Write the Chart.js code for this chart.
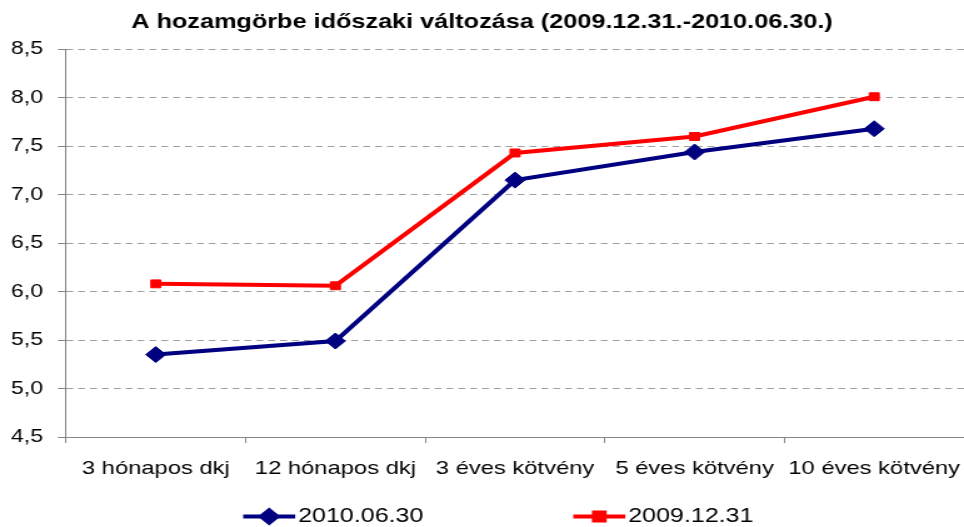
<!DOCTYPE html>
<html>
<head>
<meta charset="utf-8">
<script src="https://cdn.jsdelivr.net/npm/chart.js@4"></script>
<style>
  html, body { margin: 0; padding: 0; background: #fff; overflow: hidden; }
</style>
</head>
<body>
<!-- the reference text is drawn wide, so the chart is drawn narrower and stretched -->
<canvas id="yieldChart" width="771" height="527" style="width:964px;height:527px;display:block"></canvas>
<script>
// Data
const categories = ['3 hónapos dkj', '12 hónapos dkj', '3 éves kötvény', '5 éves kötvény', '10 éves kötvény'];
const labels2010 = '2010.06.30';
const labels2009 = '2009.12.31';
const values2010 = [5.35, 5.49, 7.15, 7.44, 7.68];
const values2009 = [6.08, 6.06, 7.43, 7.60, 8.01];
const yMin = 4.5;
const yMax = 8.5;
const yStep = 0.5;

const FONT = "'Liberation Sans', Arial, sans-serif";
const BLUE = '#000080';
const RED = '#ff0000';

// Legend: line with the marker on it, drawn below the axis labels
const lineLegend = {
    id: 'lineLegend',
    afterDraw(chart) {
        const { ctx } = chart;
        const cx = chart.width / 2;
        const y = 516.5;
        const items = [
            { text: labels2010, color: BLUE, style: 'rectRot', radius: 6.2, start: cx - 191 },
            { text: labels2009, color: RED, style: 'rect', radius: 5.5, start: cx + 73 }
        ];
        ctx.save();
        items.forEach(it => {
            ctx.strokeStyle = it.color;
            ctx.lineWidth = 4;
            ctx.beginPath();
            ctx.moveTo(it.start, y);
            ctx.lineTo(it.start + 41.6, y);
            ctx.stroke();
            ctx.fillStyle = it.color;
            Chart.helpers.drawPoint(ctx, { pointStyle: it.style, radius: it.radius, borderWidth: 1, rotation: 0 }, it.start + 20.8, y);
            ctx.fill();
            ctx.fillStyle = '#000';
            ctx.font = '20px ' + FONT;
            ctx.textAlign = 'left';
            ctx.textBaseline = 'alphabetic';
            ctx.fillText(it.text, it.start + 44, 522);
        });
        ctx.restore();
    }
};

new Chart(document.getElementById('yieldChart'), {
    type: 'line',
    data: {
        labels: categories,
        datasets: [{
            label: labels2010,
            data: values2010,
            borderColor: BLUE,
            backgroundColor: BLUE,
            borderWidth: 4,
            pointStyle: 'rectRot',
            pointRadius: 8,
            pointBorderWidth: 1,
            pointBackgroundColor: BLUE,
            pointBorderColor: BLUE,
            tension: 0
        }, {
            label: labels2009,
            data: values2009,
            borderColor: RED,
            backgroundColor: RED,
            borderWidth: 4,
            pointStyle: 'rect',
            pointRadius: 5.6,
            pointBorderWidth: 1,
            pointBackgroundColor: RED,
            pointBorderColor: RED,
            tension: 0
        }]
    },
    options: {
        responsive: false,
        animation: false,
        devicePixelRatio: 1,
        layout: { autoPadding: false, padding: { top: 0, right: 0, bottom: 45, left: 0 } },
        plugins: {
            legend: { display: false },
            tooltip: { enabled: false },
            title: {
                display: true,
                text: 'A hozamgörbe időszaki változása (2009.12.31.-2010.06.30.)',
                color: '#000',
                font: { family: FONT, size: 20.2, weight: 'bold' },
                padding: { top: 10, bottom: 15 }
            }
        },
        scales: {
            x: {
                offset: true,
                grid: {
                    display: true,
                    offset: true,
                    drawOnChartArea: false,
                    drawTicks: true,
                    tickLength: 6,
                    tickColor: '#868686',
                    color: '#868686'
                },
                border: { display: true, color: '#868686', width: 1 },
                ticks: {
                    color: '#000',
                    // tall line height pushes the labels down without adding side padding
                    font: { family: FONT, size: 19, lineHeight: 2.5 },
                    padding: 2,
                    maxRotation: 0,
                    autoSkip: false
                },
                afterFit(scale) {
                    scale.height = 45;
                    scale.paddingLeft = 0;
                    scale.paddingRight = 0;
                }
            },
            y: {
                min: yMin,
                max: yMax,
                grid: {
                    color: '#a0a0a0',
                    tickBorderDash: [],
                    tickColor: '#868686',
                    tickLength: 6.4,
                    drawTicks: true
                },
                border: { display: true, color: '#868686', width: 1, dash: [5.5, 4] },
                ticks: {
                    stepSize: yStep,
                    color: '#000',
                    font: { family: FONT, size: 18.4 },
                    padding: 12,
                    callback: v => v.toFixed(1).replace('.', ',')
                },
                afterFit(scale) { scale.width = 52.8; }
            }
        }
    },
    plugins: [lineLegend]
});
</script>
</body>
</html>
